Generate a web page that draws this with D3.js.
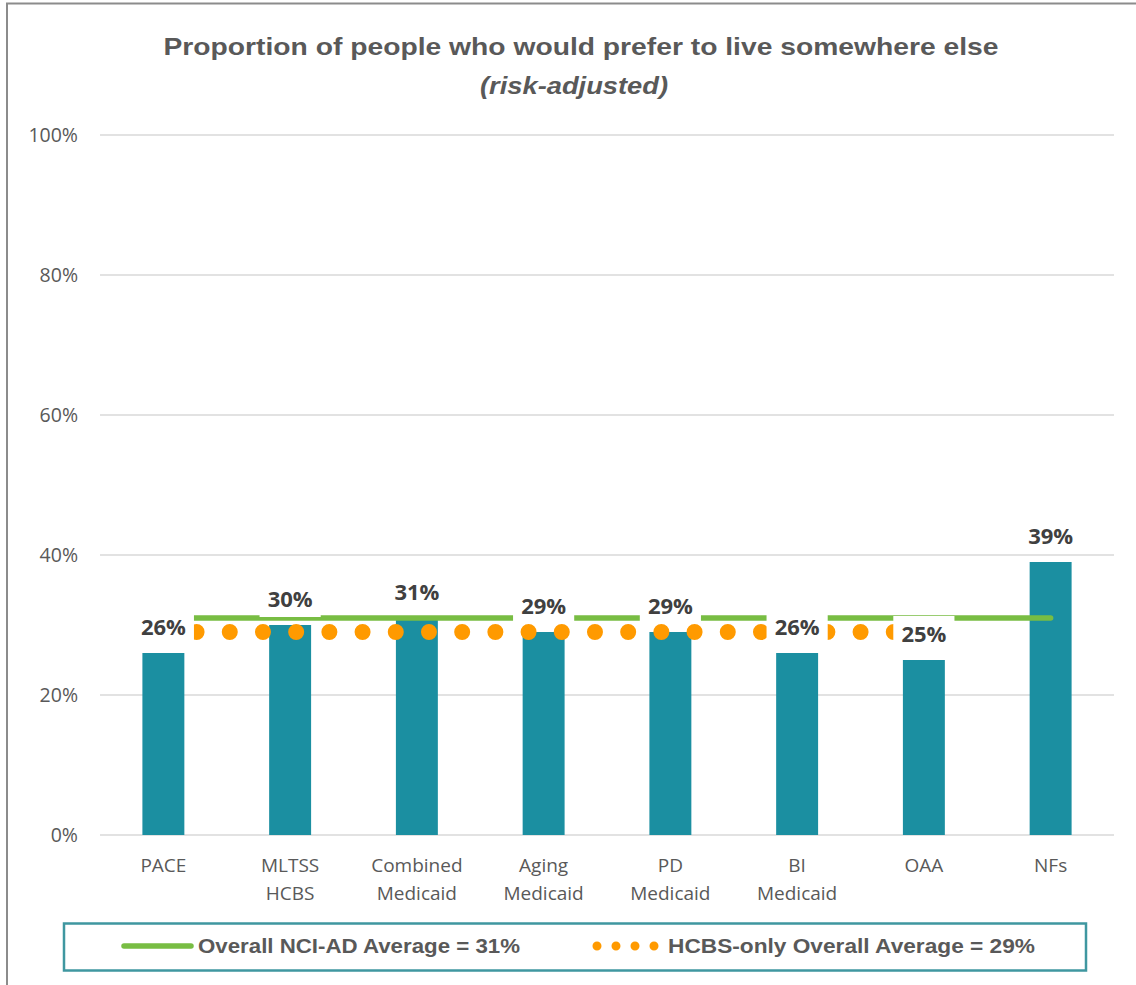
<!DOCTYPE html>
<html>
<head>
<meta charset="utf-8">
<script src="https://cdn.jsdelivr.net/npm/d3@7/dist/d3.min.js"></script>
<style>
  html, body { margin: 0; padding: 0; background: #fff; }
  svg { display: block; }
</style>
</head>
<body>
<svg id="chart" width="1136" height="985"></svg>
<script>
// ---- data ----
const categories = ["PACE", "MLTSS\nHCBS", "Combined\nMedicaid", "Aging\nMedicaid", "PD\nMedicaid", "BI\nMedicaid", "OAA", "NFs"];
const values = [26, 30, 31, 29, 29, 26, 25, 39];
const overallAverage = [31, 31, 31, 31, 31, 31, 31, 31];
const hcbsAverage = [29, 29, 29, 29, 29, 29, 29, null];
const yTicks = [0, 20, 40, 60, 80, 100];
const titleText = "Proportion of people who would prefer to live somewhere else";
const subtitleText = "(risk-adjusted)";
const legendLabels = ["Overall NCI-AD Average = 31%", "HCBS-only Overall Average = 29%"];

// ---- styles ----
const TEAL = "#1b8fa1";
const GREEN = "#78bd43";
const ORANGE = "#ff9a00";
const GRID = "#d9d9d9";
const AXIS_TEXT = "#595959";
const LABEL_TEXT = "#404040";
const FONT = "'Open Sans', 'Noto Sans', sans-serif";

const svg = d3.select("#chart");

// outer frame (only top/left visible in reference)
svg.append("path")
  .attr("d", "M7,990 L7,3.5 L1140,3.5")
  .attr("fill", "none").attr("stroke", "#8c8c8c").attr("stroke-width", 2);

// title
svg.append("text")
  .attr("x", 581).attr("y", 55)
  .attr("text-anchor", "middle")
  .attr("font-family", "'Liberation Sans', Arial, sans-serif")
  .attr("font-weight", "bold").attr("font-size", 24)
  .attr("fill", AXIS_TEXT)
  .attr("textLength", 835).attr("lengthAdjust", "spacingAndGlyphs")
  .text(titleText);
svg.append("text")
  .attr("x", 574).attr("y", 94)
  .attr("text-anchor", "middle")
  .attr("font-family", "'Liberation Sans', Arial, sans-serif")
  .attr("font-weight", "bold").attr("font-style", "italic").attr("font-size", 24)
  .attr("fill", AXIS_TEXT)
  .attr("textLength", 188).attr("lengthAdjust", "spacingAndGlyphs")
  .text(subtitleText);

// scales
const x = d3.scaleBand().domain(categories).range([100, 1114])
  .paddingInner(0.669).paddingOuter(0.669 / 2);
const y = d3.scaleLinear().domain([0, 100]).range([835, 135]);
const cx = c => x(c) + x.bandwidth() / 2;

// gridlines
svg.append("g").selectAll("line").data(yTicks).join("line")
  .attr("x1", 100).attr("x2", 1114)
  .attr("y1", d => y(d)).attr("y2", d => y(d))
  .attr("stroke", GRID).attr("stroke-width", 1.5);

// y axis labels
const yAxis = d3.axisLeft(y).tickValues(yTicks).tickFormat(d => d + "%").tickSize(0).tickPadding(0);
const yg = svg.append("g").attr("transform", "translate(78,0)").call(yAxis);
yg.select(".domain").remove();
yg.selectAll("text")
  .attr("font-family", FONT).attr("font-size", 19.5).attr("fill", AXIS_TEXT).attr("dy", "0.35em");

// x axis labels (two lines)
const xg = svg.append("g");
categories.forEach(c => {
  const lines = c.split("\n");
  const t = xg.append("text")
    .attr("text-anchor", "middle")
    .attr("font-family", FONT).attr("font-size", 19).attr("fill", AXIS_TEXT);
  lines.forEach((ln, i) => {
    t.append("tspan").attr("x", cx(c)).attr("y", 872 + i * 28).text(ln);
  });
});

// bars
svg.append("g").selectAll("rect").data(categories).join("rect")
  .attr("x", c => x(c))
  .attr("width", x.bandwidth())
  .attr("y", (c, i) => y(values[i]))
  .attr("height", (c, i) => y(0) - y(values[i]))
  .attr("fill", TEAL);

// overall average line
const lineGen = d3.line()
  .defined(d => d.v != null)
  .x(d => cx(d.c)).y(d => y(d.v));
svg.append("path")
  .datum(categories.map((c, i) => ({ c, v: overallAverage[i] })))
  .attr("d", lineGen)
  .attr("fill", "none").attr("stroke", GREEN).attr("stroke-width", 5.5)
  .attr("stroke-linecap", "round");

// HCBS dotted line
svg.append("path")
  .datum(categories.map((c, i) => ({ c, v: hcbsAverage[i] })).filter(d => d.v != null))
  .attr("d", lineGen)
  .attr("fill", "none").attr("stroke", ORANGE).attr("stroke-width", 16)
  .attr("stroke-linecap", "round").attr("stroke-dasharray", "0 33.2");

// data labels with white backgrounds
const lg = svg.append("g");
categories.forEach((c, i) => {
  const g = lg.append("g");
  const ty = y(values[i]) - 26;
  const rect = g.append("rect").attr("fill", "#fff");
  const t = g.append("text")
    .attr("x", cx(c)).attr("y", ty).attr("dy", "0.35em")
    .attr("text-anchor", "middle")
    .attr("font-family", FONT).attr("font-weight", "bold").attr("font-size", 22)
    .attr("fill", LABEL_TEXT)
    .text(values[i] + "%");
  const bb = t.node().getBBox();
  const w = bb.width + 16;
  rect.attr("x", cx(c) - w / 2).attr("width", w)
    .attr("y", ty - 18).attr("height", 36);
});

// legend
svg.append("rect")
  .attr("x", 64).attr("y", 923.5).attr("width", 1022).attr("height", 47)
  .attr("fill", "#fff").attr("stroke", "#3f97a0").attr("stroke-width", 2.5);
svg.append("line")
  .attr("x1", 124).attr("x2", 191).attr("y1", 946).attr("y2", 946)
  .attr("stroke", GREEN).attr("stroke-width", 5.5).attr("stroke-linecap", "round");
svg.append("text")
  .attr("x", 198).attr("y", 946).attr("dy", "0.35em")
  .attr("font-family", "'Liberation Sans', Arial, sans-serif")
  .attr("font-weight", "bold").attr("font-size", 20.5).attr("fill", AXIS_TEXT)
  .attr("textLength", 322).attr("lengthAdjust", "spacingAndGlyphs")
  .text(legendLabels[0]);
svg.append("line")
  .attr("x1", 597).attr("x2", 655).attr("y1", 946).attr("y2", 946)
  .attr("stroke", ORANGE).attr("stroke-width", 9)
  .attr("stroke-linecap", "round").attr("stroke-dasharray", "0 19");
svg.append("text")
  .attr("x", 668).attr("y", 946).attr("dy", "0.35em")
  .attr("font-family", "'Liberation Sans', Arial, sans-serif")
  .attr("font-weight", "bold").attr("font-size", 20.5).attr("fill", AXIS_TEXT)
  .attr("textLength", 367).attr("lengthAdjust", "spacingAndGlyphs")
  .text(legendLabels[1]);
</script>
</body>
</html>
